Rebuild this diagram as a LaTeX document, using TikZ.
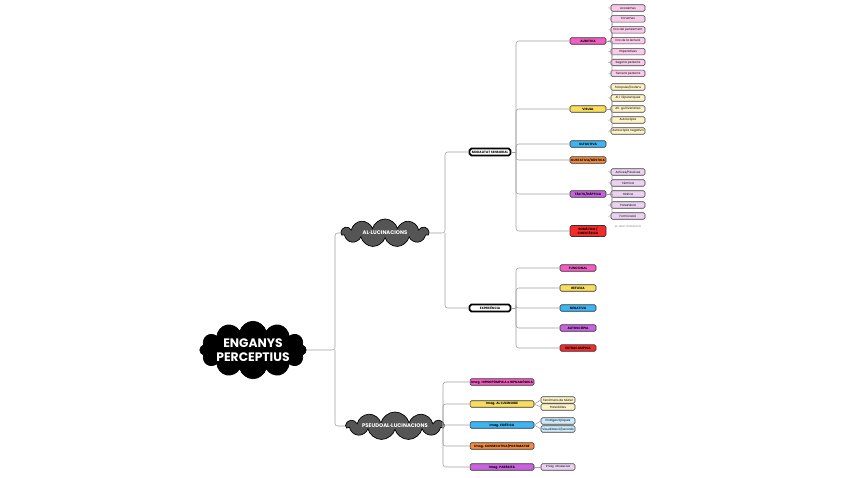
\documentclass[tikz,border=0pt]{standalone}
\usepackage{fontspec}
\setmainfont{Poppins}
\usepackage{tikz}
\usetikzlibrary{shapes.symbols, positioning}

\definecolor{cloudgrey}{HTML}{555555}
\definecolor{pinkcat}{HTML}{F25CC3}
\definecolor{pinkleaf}{HTML}{F9CBEA}
\definecolor{yellowcat}{HTML}{F8DC5C}
\definecolor{yellowleaf}{HTML}{FDF2C6}
\definecolor{bluecat}{HTML}{3DB5F2}
\definecolor{blueleaf}{HTML}{CBEAFB}
\definecolor{orangecat}{HTML}{F28B3E}
\definecolor{purplecat}{HTML}{C862DF}
\definecolor{purpleleaf}{HTML}{EBD2F2}
\definecolor{redcat}{HTML}{F22B2B}

\tikzset{
  branch/.style={draw=gray!75, line width=0.3pt, rounded corners=1.5pt},
  rootcloud/.style={cloud, cloud puffs=12, cloud ignores aspect, fill=black, draw=black,
    text=white, align=center, inner sep=0pt, minimum width=2.05cm, minimum height=1.15cm,
    font=\fontsize{7}{8}\selectfont\bfseries},
  subcloud/.style={cloud, cloud puffs=11, cloud ignores aspect, fill=cloudgrey, draw=black,
    line width=0.4pt, text=white, inner sep=0pt, minimum height=0.56cm,
    font=\fontsize{3}{3.5}\selectfont\bfseries},
  modebox/.style={draw=black, line width=1pt, fill=white, rounded corners=1pt,
    minimum width=0.82cm, minimum height=0.14cm, inner sep=0pt,
    font=\fontsize{1.8}{2}\selectfont\bfseries},
  catbox/.style={draw=black!80, line width=0.3pt, rounded corners=0.8pt,
    minimum width=0.72cm, minimum height=0.13cm, inner sep=0pt, align=center,
    font=\fontsize{1.8}{2.1}\selectfont\bfseries},
  pseudobox/.style={catbox, minimum width=1.28cm},
  leafbox/.style={draw=black!75, line width=0.3pt, rounded corners=0.8pt,
    minimum width=0.68cm, minimum height=0.13cm, inner sep=0pt,
    font=\fontsize{1.7}{2}\selectfont},
}

\begin{document}
\begin{tikzpicture}[x=0.02cm, y=-0.02cm]
\useasboundingbox (0,0) rectangle (848,477);

% main clouds
\node[rootcloud] (root) at (253,350) {ENGANYS\\PERCEPTIUS};
\node[subcloud, minimum width=1.75cm] (allu) at (385,233) {AL·LUCINACIONS};
\node[subcloud, minimum width=1.95cm] (pseudo) at (395,426) {PSEUDOAL·LUCINACIONS};

\coordinate (j0) at (335,350);
\draw[branch] (root.east) -- (j0) |- (allu.west);
\draw[branch] (j0) |- (pseudo.west);

% al·lucinacions
\node[modebox] (modal) at (490,152) {MODALITAT SENSORIAL};
\node[modebox] (exper) at (490,308) {EXPERIÈNCIA};
\coordinate (j1) at (445,233);
\draw[branch] (allu.east) -- (j1) |- (modal.west);
\draw[branch] (j1) |- (exper.west);

% modalitat sensorial
\node[catbox, fill=pinkcat] (aud) at (588,41) {AUDITIVA};
\node[catbox, fill=yellowcat] (vis) at (588,109) {VISUAL};
\node[catbox, fill=bluecat] (olf) at (588,144) {OLFACTIVA};
\node[catbox, fill=orangecat] (gus) at (588,160) {GUSTATIVA/GÚSTICA};
\node[catbox, fill=purplecat] (tac) at (588,194) {TÀCTIL/HÀPTICA};
\node[catbox, fill=redcat, minimum height=0.22cm] (som) at (588,231) {SOMÀTICA /\\CINESTÈSICA};
\coordinate (j2) at (516,152);
\draw[branch] (modal.east) -- (j2);
\foreach \c in {aud,vis,olf,gus,tac,som}
  \draw[branch] (j2) |- (\c.west);

% auditiva
\coordinate (j3) at (612,41);
\draw[branch] (aud.east) -- (j3);
\foreach \t [count=\i] in {Acoasmes, Fonemes, Eco del pensament, Eco de la lectura,
    Imperatives, Segona persona, Tercera persona} {
  \node[leafbox, fill=pinkleaf] (aud\i) at (628,{8+(\i-1)*10.9}) {\t};
  \draw[branch] (j3) |- (aud\i.west);
}

% visual
\coordinate (j4) at (612,109);
\draw[branch] (vis.east) -- (j4);
\foreach \t [count=\i] in {Fotopsies/fosfens, Al·l. liliputenques, Al·l. gul·liverianes,
    Autoscòpia, Autoscòpia negativa} {
  \node[leafbox, fill=yellowleaf] (vis\i) at (628,{87+(\i-1)*11}) {\t};
  \draw[branch] (j4) |- (vis\i.west);
}

% tactil
\coordinate (j5) at (612,194);
\draw[branch] (tac.east) -- (j5);
\foreach \t [count=\i] in {Actives/Passives, Tèrmica, Hídrica, Parestèsia, Formicació} {
  \node[leafbox, fill=purpleleaf] (tac\i) at (628,{172+(\i-1)*11}) {\t};
  \draw[branch] (j5) |- (tac\i.west);
}
\node[font=\fontsize{1.5}{1.8}\selectfont, text=gray, below=0pt of tac5] (tacnote) {en deliri d'infestació};

% experiencia
\coordinate (j6) at (516,308);
\draw[branch] (exper.east) -- (j6);
\foreach \t/\col [count=\i] in {FUNCIONAL/pinkcat, REFLEXA/yellowcat, NEGATIVA/bluecat,
    AUTOSCÒPIA/purplecat, EXTRACAMPINA/redcat} {
  \node[catbox, fill=\col] (exp\i) at (578,{268+(\i-1)*20}) {\t};
  \draw[branch] (j6) |- (exp\i.west);
}

% pseudoal·lucinacions
\node[pseudobox, fill=pinkcat] (hip) at (502,382) {Imag. HIPNOPÒMPICA o HIPNAGÒGICA};
\node[pseudobox, fill=yellowcat] (alu) at (502,404) {Imag. AL·LUCINOIDE};
\node[pseudobox, fill=bluecat] (eid) at (502,425) {Imag. EIDÈTICA};
\node[pseudobox, fill=orangecat] (con) at (502,446) {Imag. CONSECUTIVA/POSTIMATGE};
\node[pseudobox, fill=purplecat] (par) at (502,467) {Imag. PARÀSITA};
\coordinate (j7) at (443,426);
\draw[branch] (pseudo.east) -- (j7);
\foreach \c in {hip,alu,eid,con,par}
  \draw[branch] (j7) |- (\c.west);

\node[leafbox, fill=yellowleaf] (alu1) at (558,400) {Fenòmens de Müller};
\node[leafbox, fill=yellowleaf] (alu2) at (558,407) {Pareidòlies};
\node[leafbox, fill=blueleaf] (eid1) at (558,421) {Imatges típiques};
\node[leafbox, fill=blueleaf] (eid2) at (558,429) {Visualització/records};
\node[leafbox, fill=purpleleaf] (par1) at (558,467) {Imag. obsessiva};
\draw[branch] (alu.east) -- (alu1.west);
\draw[branch] (alu.east) -- (alu2.west);
\draw[branch] (eid.east) -- (eid1.west);
\draw[branch] (eid.east) -- (eid2.west);
\draw[branch] (par.east) -- (par1.west);
\end{tikzpicture}
\end{document}
